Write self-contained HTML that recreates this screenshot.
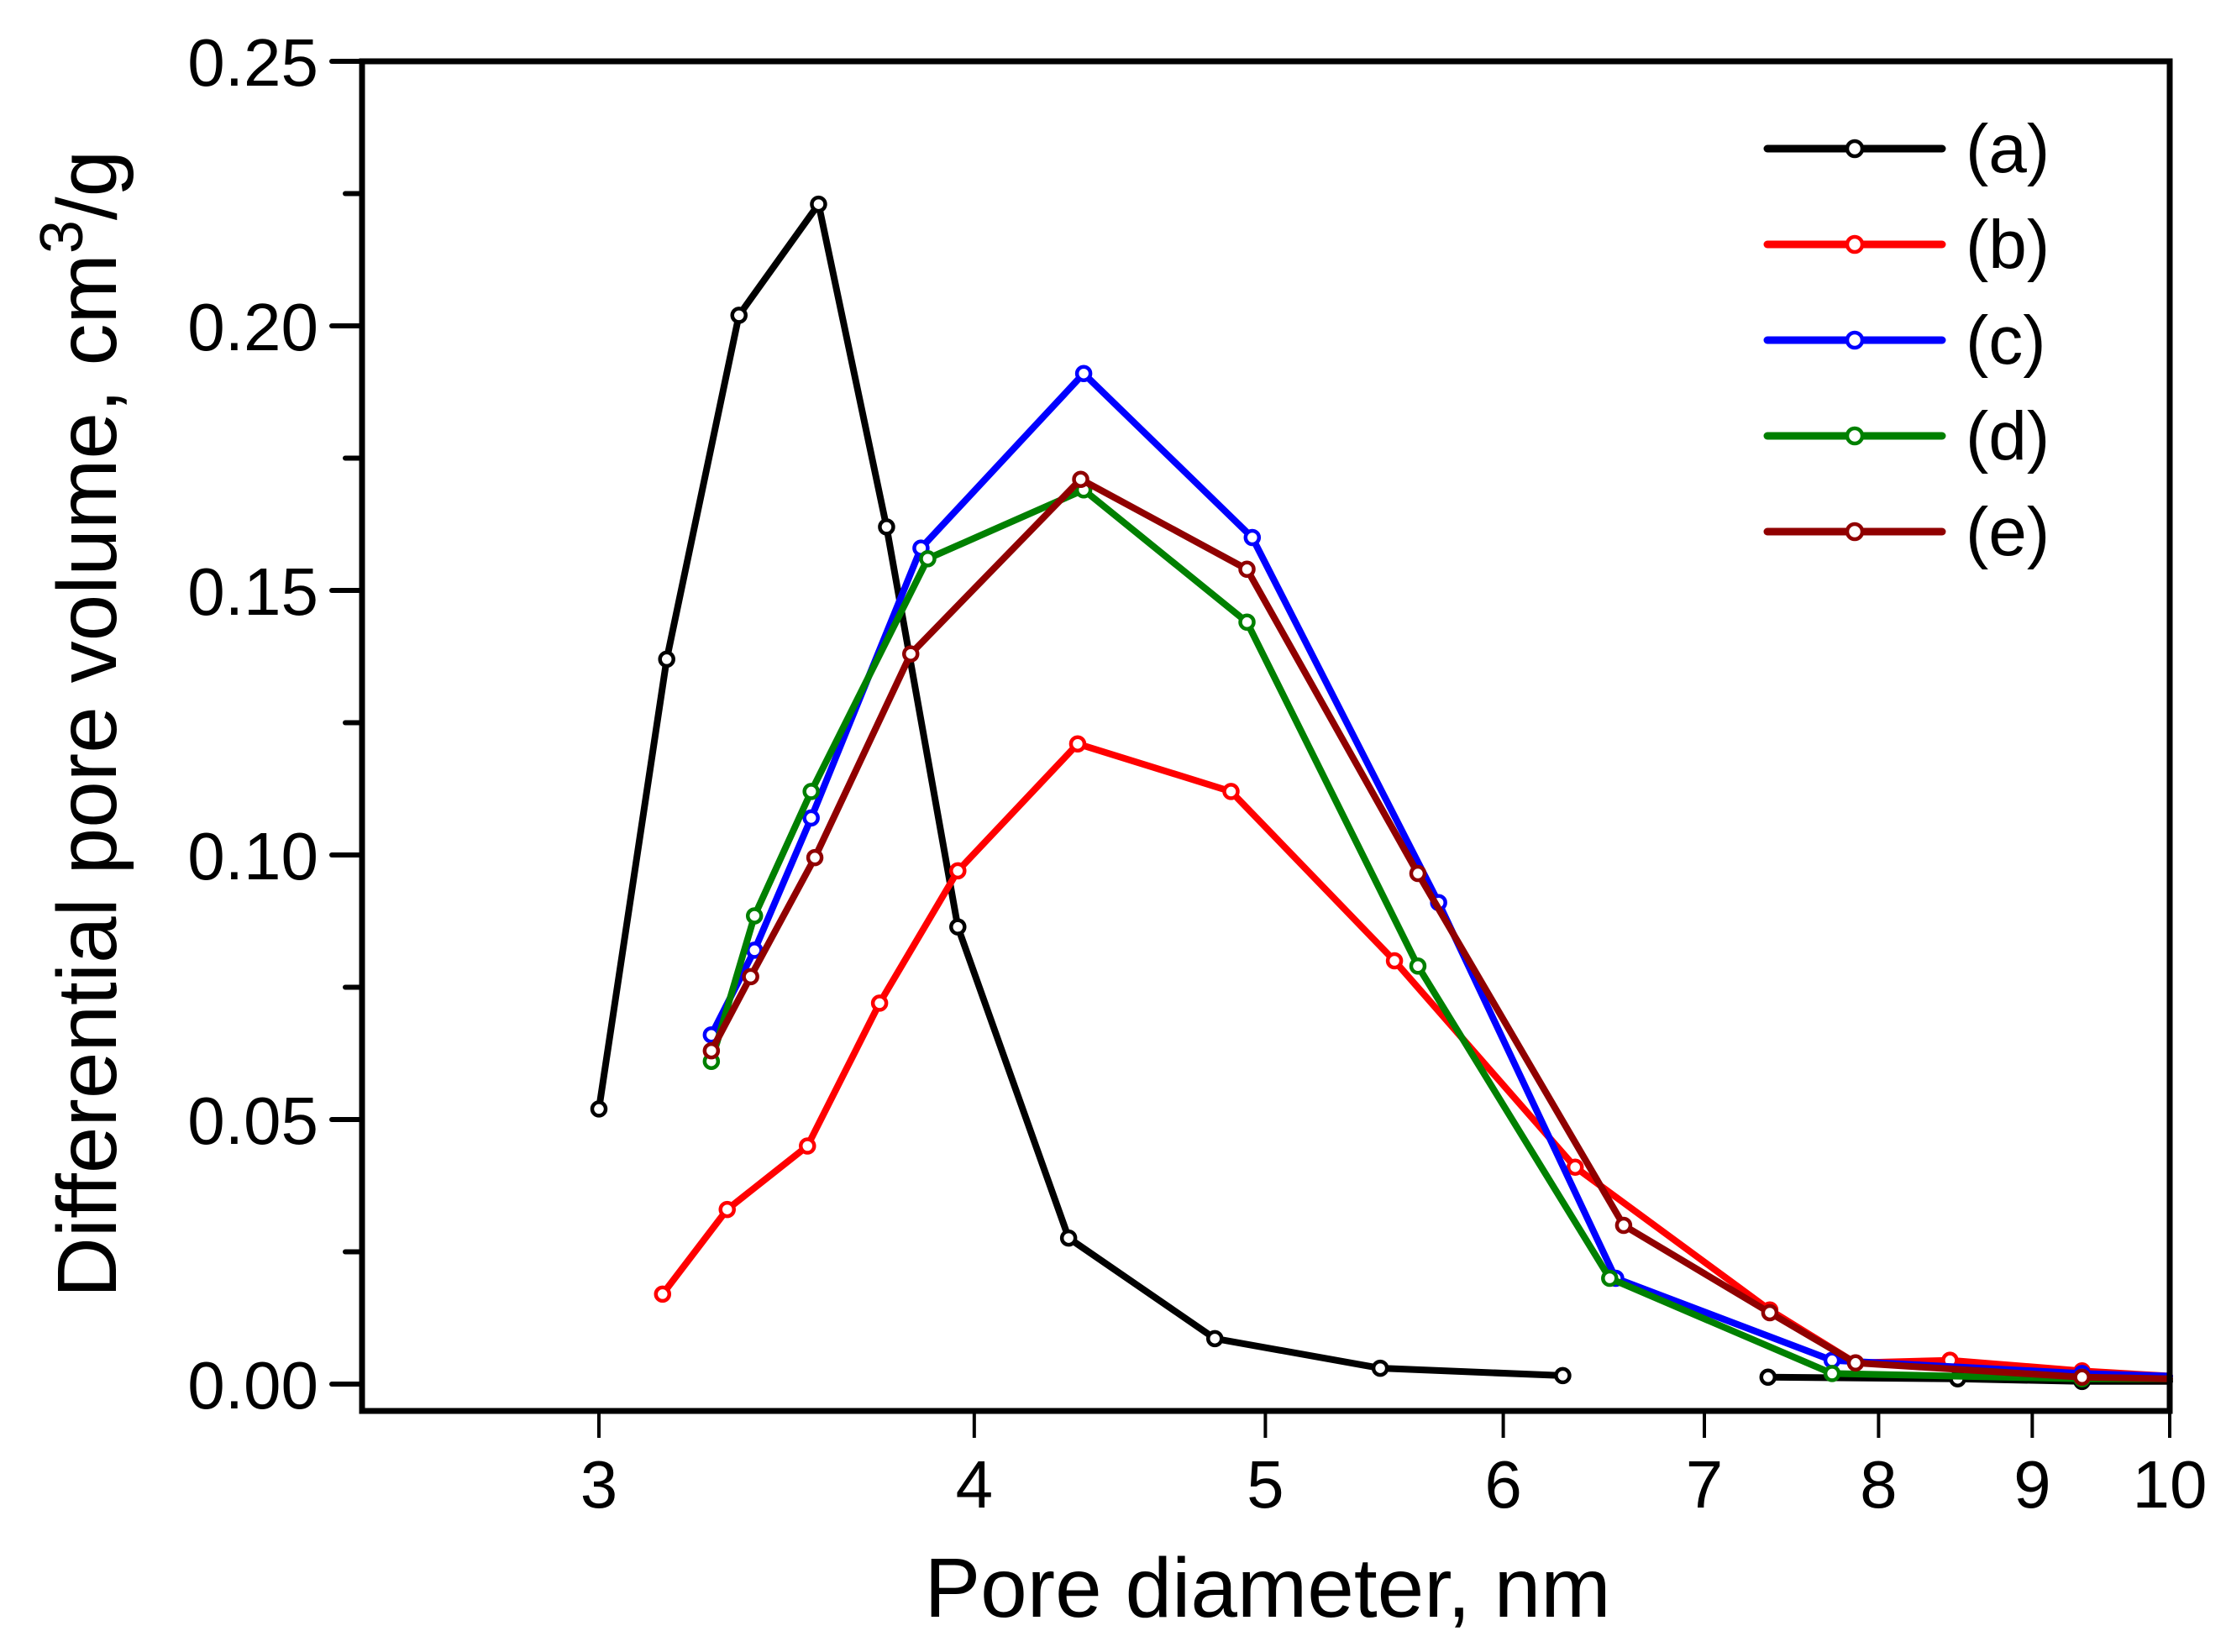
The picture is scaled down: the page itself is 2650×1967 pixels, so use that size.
<!DOCTYPE html>
<html><head><meta charset="utf-8"><style>
html,body{margin:0;padding:0;background:#fff;}
svg{display:block;font-family:"Liberation Sans",Arial,sans-serif;}
</style></head><body>
<svg id="chart" width="2650" height="1967" viewBox="0 0 2650 1967" xmlns="http://www.w3.org/2000/svg">
<g id="marks"></g>
<g id="axes"></g>
<g id="legend"></g>
<text x="1509" y="1925" font-size="100" text-anchor="middle">Pore diameter, nm</text>
<text transform="translate(138,862) rotate(-90)" font-size="100" text-anchor="middle">Differential pore volume, cm<tspan dy="-40" font-size="72">3</tspan><tspan dy="40">/g</tspan></text>
</svg>
<script>
const xTicks = [3,4,5,6,7,8,9,10];
const yTicks = [0,0.05,0.10,0.15,0.20,0.25];
const yTickLabels = ["0.00","0.05","0.10","0.15","0.20","0.25"];
const seriesNames = ["(a)","(b)","(c)","(d)","(e)"];
const seriesColors = ["#000000","#ff0000","#0000ff","#008000","#900000"];
const xA = [3.0,3.16,3.34,3.55,3.74,3.95,4.30,4.81,5.46,6.28,null,7.35,8.50,9.35,10];
const yA = [0.052,0.137,0.202,0.223,0.162,0.0864,0.0276,0.0086,0.003,0.0016,null,0.0013,0.001,0.0005,0.0005];
const xB = [3.15,3.31,3.52,3.72,3.95,4.33,4.87,5.52,6.34,7.36,7.86,8.45,9.35,10];
const yB = [0.017,0.033,0.045,0.072,0.097,0.121,0.112,0.080,0.041,0.014,0.004,0.0045,0.0025,0.0015];
const xC = [3.27,3.38,3.53,3.84,4.35,4.95,5.71,6.54,7.72,9.35,10];
const yC = [0.066,0.082,0.107,0.158,0.191,0.160,0.091,0.020,0.0045,0.002,0.0015];
const xD = [3.27,3.38,3.53,3.86,4.35,4.93,5.62,6.51,7.72,9.35,10];
const yD = [0.061,0.0885,0.112,0.156,0.169,0.144,0.079,0.020,0.002,0.001,0.001];
const xE = [3.27,3.37,3.54,3.81,4.34,4.93,5.62,6.58,7.36,7.86,9.35,10];
const yE = [0.063,0.077,0.0995,0.138,0.171,0.154,0.0965,0.030,0.0135,0.004,0.0013,0.001];

const NS="http://www.w3.org/2000/svg";
const L=431,R=2583,T=73,B=1680;
const X3=713,X10=2583,Y0=1648,Y25=73;
function sx(v){return X3+(Math.log10(v)-Math.log10(3))/(Math.log10(10)-Math.log10(3))*(X10-X3);}
function sy(v){return Y0+(v/0.25)*(Y25-Y0);}
function mk(tag,attrs,parent){const e=document.createElementNS(NS,tag);for(const k in attrs)e.setAttribute(k,attrs[k]);parent.appendChild(e);return e;}
const marks=document.getElementById('marks'),axes=document.getElementById('axes'),legend=document.getElementById('legend');
const allX=[xA,xB,xC,xD,xE],allY=[yA,yB,yC,yD,yE];
const keys=['a','b','c','d','e'];
allX.forEach((xs,si)=>{
  const col=seriesColors[si];
  let d='',pen=false;
  for(let i=0;i<xs.length;i++){
    if(xs[i]===null){pen=false;continue;}
    d+=(pen?'L':'M')+sx(xs[i]).toFixed(1)+','+sy(allY[si][i]).toFixed(1);pen=true;
  }
  const p=mk('path',{d:d,fill:'none',stroke:col,'stroke-width':8,'stroke-linejoin':'round','stroke-linecap':'round'},marks);
  
  
  for(let i=0;i<xs.length;i++){
    if(xs[i]===null||xs[i]>=10)continue;
    const c=mk('circle',{cx:sx(xs[i]),cy:sy(allY[si][i]),r:8,fill:'#fff',stroke:col,'stroke-width':4.5},marks);
    
    
  }
});
const fr=mk('rect',{x:L,y:T,width:R-L,height:B-T,fill:'none',stroke:'#000','stroke-width':7},axes);


for(let v=0;v<=0.2501;v+=0.025){
  const major=Math.abs(v/0.05-Math.round(v/0.05))<1e-6;
  const t=mk('line',{x1:L-(major?36:20),x2:L,y1:sy(v),y2:sy(v),stroke:'#000','stroke-width':6,'stroke-linecap':'round'},axes);
  
  
}
yTicks.forEach((v,i)=>{
  const t=mk('text',{x:L-52,y:sy(v)+29,'font-size':80,'text-anchor':'end'},axes);
  t.textContent=yTickLabels[i];
  
  
});
xTicks.forEach(v=>{
  const t=mk('line',{x1:sx(v),x2:sx(v),y1:B,y2:B+32,stroke:'#000','stroke-width':4},axes);
  
  
  const l=mk('text',{x:sx(v),y:1795,'font-size':80,'text-anchor':'middle'},axes);
  l.textContent=String(v);
  
  
});
seriesNames.forEach((n,i)=>{
  const y=177+i*114;
  const ln=mk('line',{x1:2104,x2:2312,y1:y,y2:y,stroke:seriesColors[i],'stroke-width':9,'stroke-linecap':'round'},legend);
  
  
  const c=mk('circle',{cx:2208,cy:y,r:9,fill:'#fff',stroke:seriesColors[i],'stroke-width':4.5},legend);
  
  
  const t=mk('text',{x:2340,y:y+28,'font-size':82},legend);
  t.textContent=n;
  
  
});
</script>
</body></html>
